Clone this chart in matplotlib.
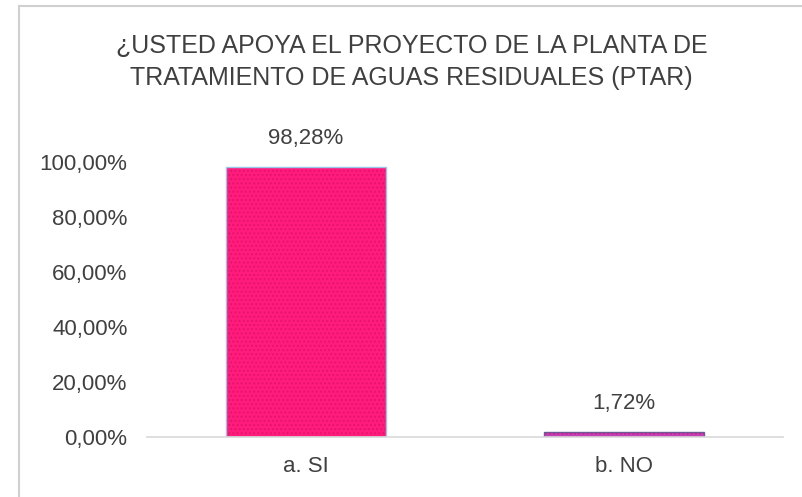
import matplotlib
matplotlib.use("Agg")
import matplotlib.pyplot as plt
from matplotlib.lines import Line2D
from matplotlib import font_manager

categories = ["a. SI", "b. NO"]
values = [0.9828, 0.0172]
value_labels = ["98,28%", "1,72%"]
yticks = [0.0, 0.2, 0.4, 0.6, 0.8, 1.0]
ytick_labels = ["0,00%", "20,00%", "40,00%", "60,00%", "80,00%", "100,00%"]
title = "¿USTED APOYA EL PROYECTO DE LA PLANTA DE\nTRATAMIENTO DE AGUAS RESIDUALES (PTAR)"

names = {f.name for f in font_manager.fontManager.ttflist}
fam = ["Liberation Sans Narrow", "Liberation Sans", "DejaVu Sans"]
fam = [f for f in fam if f in names] or ["DejaVu Sans"]
plt.rcParams["font.family"] = fam
plt.rcParams["hatch.linewidth"] = 1.0

W, H = 802, 497
fig = plt.figure(figsize=(W / 100, H / 100), dpi=100)
fig.patch.set_facecolor("white")

ax = fig.add_axes([147 / W, (H - 437) / H, 636 / W, 316 / H])
ax.set_xlim(-0.5, 1.5)
ax.set_ylim(0, 1.15)

x = list(range(len(categories)))
bars = ax.bar(x, values, width=0.503, color=["#FF1C7C", "#C040B8"],
              edgecolor=["#9CC3E8", "#6A5A9A"], linewidth=1.0, hatch="....")
for b in bars:
    b._hatch_color = matplotlib.colors.to_rgba("#E8126F")

for xi, v, lab in zip(x, values, value_labels):
    ax.annotate(lab, (xi, v), xytext=(0, 13), textcoords="offset points",
                ha="center", va="bottom", fontsize=16, color="#404040")

ax.set_yticks(yticks)
ax.set_yticklabels(ytick_labels)
ax.set_xticks(x)
ax.set_xticklabels(categories)
ax.tick_params(axis="y", length=0, pad=14, labelsize=16, labelcolor="#404040")
ax.tick_params(axis="x", length=0, pad=14, labelsize=16, labelcolor="#404040")
for s in ["top", "right", "left"]:
    ax.spines[s].set_visible(False)
ax.spines["bottom"].set_color("#D9D9D9")
ax.spines["bottom"].set_linewidth(1.2)

fig.text(0.5 * (118 + 705) / W, 1 - 62 / H, title, ha="center", va="center",
         fontsize=18, color="#404040", linespacing=1.45)

# outer chart border (partially visible)
fig.add_artist(Line2D([19 / W, 19 / W], [0, 1 - 6 / H], color="#D0D0D0", lw=1.5))
fig.add_artist(Line2D([19 / W, 1], [1 - 6 / H, 1 - 6 / H], color="#D0D0D0", lw=1.5))

fig.savefig("out.png", dpi=100, facecolor="white")
